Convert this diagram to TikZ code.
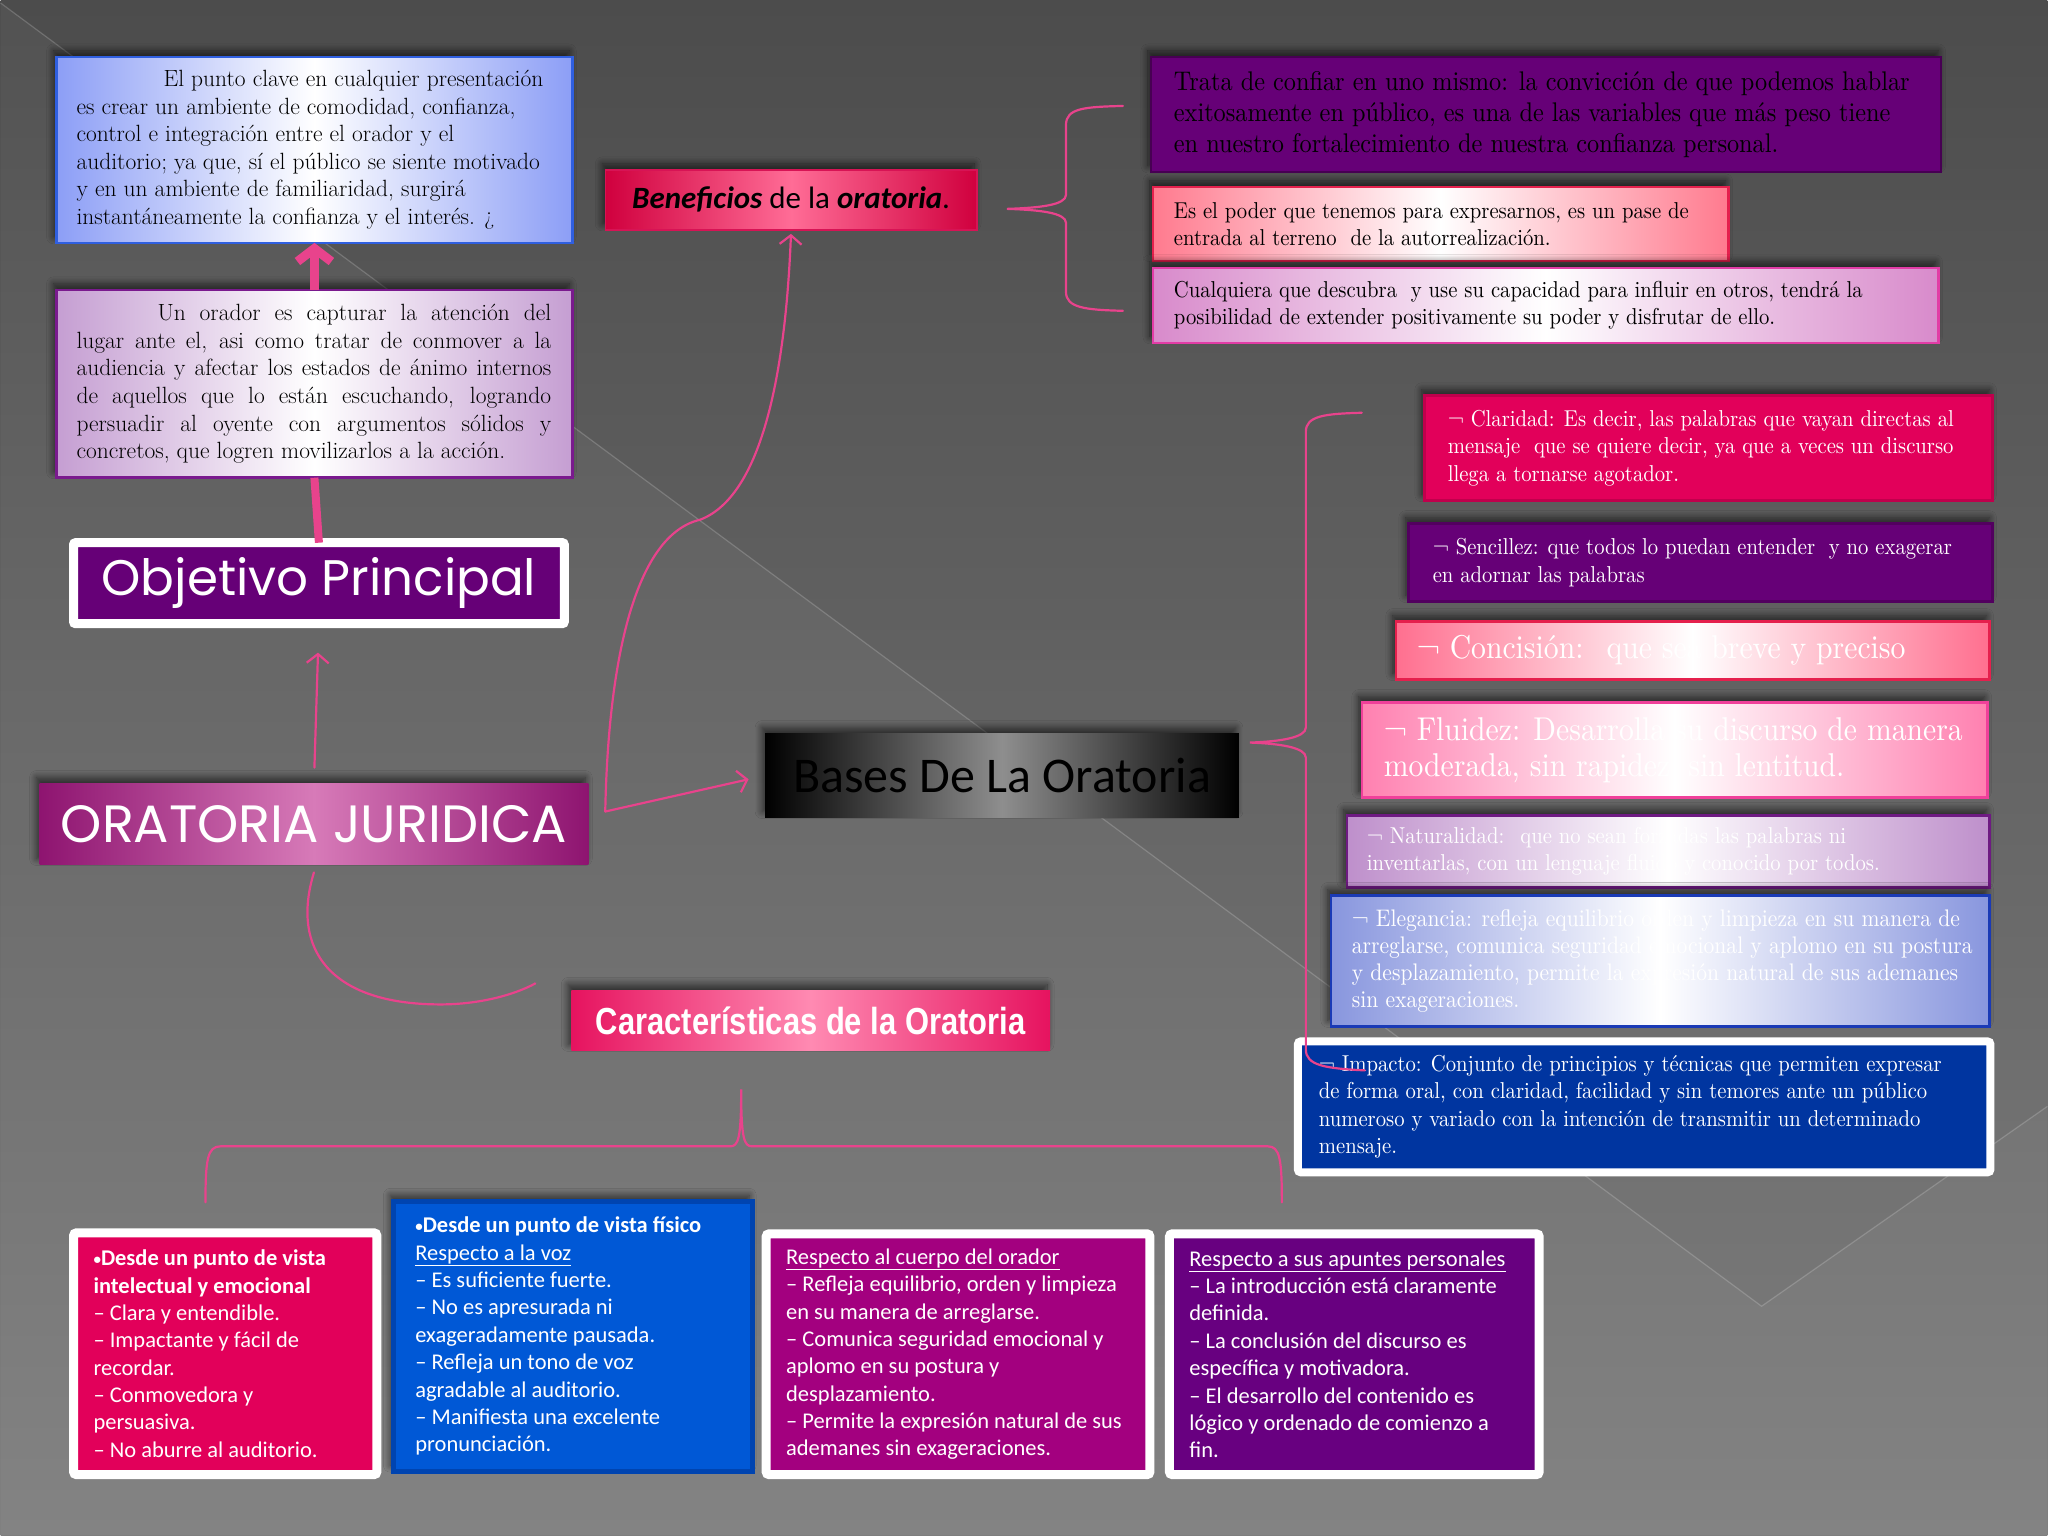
\documentclass[tikz,border=0pt]{standalone}
\usepackage{fontspec}
\usetikzlibrary{shadows,shadows.blur,arrows.meta}
\newfontfamily\carl{Carlito}
\newfontfamily\gothic{Poppins}
\newfontfamily\lsans[FakeStretch=0.82]{Liberation Sans}
\newfontfamily\cserif[FakeStretch=0.9]{lmroman10-regular.otf}
\definecolor{bgtop}{HTML}{4C4C4C}
\definecolor{bgbot}{HTML}{7E7E7E}
\definecolor{pinkc}{HTML}{E8438C}
\definecolor{purp}{HTML}{660077}
\definecolor{crim}{HTML}{E2005A}
\definecolor{tlblue}{HTML}{8C9EF6}
\definecolor{tlblueb}{HTML}{2F5FE0}
\definecolor{tllav}{HTML}{C59ED2}
\definecolor{tllavb}{HTML}{7A1A8E}
\definecolor{oradk}{HTML}{8E1470}
\definecolor{orali}{HTML}{D77AB8}
\definecolor{benred}{HTML}{D0003E}
\definecolor{benli}{HTML}{FF6C96}
\definecolor{carred}{HTML}{E6135F}
\definecolor{carli}{HTML}{FF8AB2}
\definecolor{basegray}{HTML}{8E8E8E}
\definecolor{rpink}{HTML}{FF7A8E}
\definecolor{rpinkb}{HTML}{E5204D}
\definecolor{rlav}{HTML}{D88ACB}
\definecolor{rlavb}{HTML}{E23CA6}
\definecolor{conc}{HTML}{FF6F8F}
\definecolor{flui}{HTML}{FF80B0}
\definecolor{fluib}{HTML}{F0409A}
\definecolor{natu}{HTML}{BE8FCB}
\definecolor{natub}{HTML}{6E1A82}
\definecolor{eleg}{HTML}{8896DE}
\definecolor{elegb}{HTML}{1A3AB6}
\definecolor{impa}{HTML}{0035A0}
\definecolor{bblue}{HTML}{0058D6}
\definecolor{bblueb}{HTML}{0044B0}
\definecolor{bmag}{HTML}{A3007F}
\definecolor{bpur}{HTML}{680080}
\newcommand{\smallbul}{{\fontsize{15}{15}\selectfont\raisebox{1.5pt}{•}}}
\begin{document}
\begin{tikzpicture}[x=1pt,y=-1pt,
  boxs/.style={anchor=north west, inner sep=0pt, outer sep=0pt, rectangle},
  txt/.style={anchor=west, align=left, inner sep=0pt, outer sep=0pt},
  shad/.style={blur shadow={shadow xshift=-3pt, shadow yshift=6pt, shadow blur radius=7pt, shadow blur steps=10, shadow opacity=60}},
  pk/.style={draw=pinkc, line width=2.2pt, line cap=round},
  pkarrow/.style={pk, -{Straight Barb[length=9pt,width=22pt]}},
  frame/.style={draw=white, line width=9pt, rounded corners=3pt},
  condA/.style={font=\cserif\fontsize{23}{27.4}\selectfont},
  bott/.style={txt, font=\carl\fontsize{22.5}{27.4}\selectfont, text=white}
]
% background
\fill[top color=bgtop, bottom color=bgbot] (0,0) rectangle (2048,1536);
\fill[white, opacity=0.04] (0,3) -- (1762,1307) -- (2048,1107) -- (2048,1536) -- (0,1536) -- cycle;
\draw[white, opacity=0.18, line width=1.2pt] (0,3) -- (1762,1307) -- (2048,1107);
\useasboundingbox (0,0) rectangle (2048,1536);

% ---------- top-left boxes
\node[boxs, minimum width=516pt, minimum height=186pt, draw=tlblueb, line width=2.5pt,
  left color=tlblue, right color=tlblue, middle color=white, shad] (tl1) at (56,57) {};
\node[txt, font=\fontsize{23.5}{27.5}\selectfont] (tl1t) at ([xshift=20pt]tl1.west)
 {\hspace*{87pt}El punto clave en cualquier presentación\\
  es crear un ambiente de comodidad, confianza,\\
  control e integración entre el orador y el\\
  auditorio; ya que, sí el público se siente motivado\\
  y en un ambiente de familiaridad, surgirá\\
  instantáneamente la confianza y el interés. ¿};

\node[boxs, minimum width=516pt, minimum height=188pt, draw=tllavb, line width=2.5pt,
  left color=tllav, right color=tllav, middle color=white, shad] (tl2) at (56,290) {};
\node[txt, font=\fontsize{23.5}{27.7}\selectfont] (tl2t) at ([xshift=20pt]tl2.west)
 {\hspace*{81pt}\makebox[394pt][s]{Un orador es capturar la atención del}\\
  \makebox[475pt][s]{lugar ante el, asi como tratar de conmover a la}\\
  \makebox[475pt][s]{audiencia y afectar los estados de ánimo internos}\\
  \makebox[475pt][s]{de aquellos que lo están escuchando, logrando}\\
  \makebox[475pt][s]{persuadir al oyente con argumentos sólidos y}\\
  concretos, que logren movilizarlos a la acción.};

% ---------- objetivo / oratoria
\node[boxs, minimum width=491pt, minimum height=81pt, fill=purp, frame, rounded corners=2pt,
  text=white, font=\gothic\fontsize{50}{50}\selectfont] (obj) at (73,543) {Objetivo Principal};

\node[boxs, minimum width=549pt, minimum height=81pt, left color=oradk, right color=oradk,
  middle color=orali, text=white, font=\gothic\fontsize{52.5}{52.5}\selectfont, shad] (ora) at (39,784) {ORATORIA JURIDICA};

\node[boxs, minimum width=474pt, minimum height=84pt, left color=black, right color=black,
  middle color=basegray, text=black, font=\carl\fontsize{50}{50}\selectfont, shad] (bases) at (765,734) {Bases De La Oratoria};

\node[boxs, minimum width=372pt, minimum height=60pt, left color=benred, right color=benred,
  middle color=benli, draw=benred!70!pinkc, line width=1.5pt, text=black,
  font=\carl\fontsize{31}{31}\selectfont, shad] (benef) at (605,170)
  {{\bfseries\itshape Beneficios} de la {\bfseries\itshape oratoria}.};

\node[boxs, minimum width=479pt, minimum height=60pt, left color=carred, right color=carred,
  middle color=carli, text=white, font=\lsans\bfseries\fontsize{37.7}{37.7}\selectfont, shad] (car) at (571,991)
  {Características de la Oratoria};

% ---------- top right boxes
\node[boxs, minimum width=791pt, minimum height=115pt, fill=purp, draw=purp!70!black, line width=2pt, shad] (r1) at (1151,57) {};
\node[txt, font=\cserif\fontsize{27}{31}\selectfont, text=black] (r1t) at ([xshift=23pt]r1.west)
 {Trata de confiar en uno mismo: la convicción de que podemos hablar\\
  exitosamente en público, es una de las variables que más peso tiene\\
  en nuestro fortalecimiento de nuestra confianza personal.};

\node[boxs, minimum width=576pt, minimum height=74pt, left color=rpink, right color=rpink,
  middle color=white, draw=rpinkb, line width=2.5pt, shad] (r2) at (1153,187) {};
\node[txt, condA, text=black] (r2t) at ([xshift=21pt]r2.west)
 {Es el poder que tenemos para expresarnos, es un pase de\\
  entrada al terreno \ de la autorrealización.};

\node[boxs, minimum width=786pt, minimum height=75pt, left color=rlav, right color=rlav,
  middle color=white, draw=rlavb, line width=2.5pt, shad] (r3) at (1153,268) {};
\node[txt, condA, text=black] (r3t) at ([xshift=21pt]r3.west)
 {Cualquiera que descubra \ y use su capacidad para influir en otros, tendrá la\\
  posibilidad de extender positivamente su poder y disfrutar de ello.};

% ---------- bases list boxes
\node[boxs, minimum width=568pt, minimum height=105pt, fill=crim, draw=crim!85!black, line width=3pt, shad] (cla) at (1425,396) {};
\node[txt, condA, text=white] (clat) at ([xshift=23pt]cla.west)
 {¬ Claridad: Es decir, las palabras que vayan directas al\\
  mensaje \ que se quiere decir, ya que a veces un discurso\\
  llega a tornarse agotador.};

\node[boxs, minimum width=584pt, minimum height=78pt, fill=purp, draw=purp!80!black, line width=3pt, shad] (sen) at (1409,524) {};
\node[txt, condA, text=white] (sent) at ([xshift=24pt]sen.west)
 {¬ Sencillez: que todos lo puedan entender \ y no exagerar\\
  en adornar las palabras};

\node[boxs, minimum width=594pt, minimum height=58pt, left color=conc, right color=conc,
  middle color=white, draw=rpinkb, line width=2.5pt, shad] (con) at (1396,622) {};
\node[txt, font=\cserif\fontsize{33}{36}\selectfont, text=white] (cont) at ([xshift=21pt]con.west)
 {¬ Concisión: \ que sea breve y preciso};

\node[boxs, minimum width=626pt, minimum height=95pt, left color=flui, right color=flui,
  middle color=white, draw=fluib, line width=2.5pt, shad] (flu) at (1362,703) {};
\node[txt, font=\cserif\fontsize{33}{36.5}\selectfont, text=white] (flut) at ([xshift=22pt]flu.west)
 {¬ Fluidez: Desarrolla su discurso de manera\\
  moderada, sin rapidez, sin lentitud.};

\node[boxs, minimum width=643pt, minimum height=72pt, left color=natu, right color=natu,
  middle color=white, draw=natub, line width=2.5pt, shad] (nat) at (1347,816) {};
\node[txt, condA, text=white] (natt) at ([xshift=20pt]nat.west)
 {¬ Naturalidad: \ que no sean forzadas las palabras ni\\
  inventarlas, con un lenguaje fluido y conocido por todos.};

\node[boxs, minimum width=659pt, minimum height=131pt, left color=eleg, right color=eleg,
  middle color=white, draw=elegb, line width=2.5pt, shad] (ele) at (1331,896) {};
\node[txt, font=\cserif\fontsize{24}{27}\selectfont, text=white] (elet) at ([xshift=21pt]ele.west)
 {¬ Elegancia: refleja equilibrio orden y limpieza en su manera de\\
  arreglarse, comunica seguridad emocional y aplomo en su postura\\
  y desplazamiento, permite la expresión natural de sus ademanes\\
  sin exageraciones.};

\node[boxs, minimum width=693pt, minimum height=131pt, fill=impa, frame, line width=8pt] (imp) at (1298,1042) {};
\node[txt, condA, text=white] (impt) at ([xshift=21pt]imp.west)
 {¬ Impacto: Conjunto de principios y técnicas que permiten expresar\\
  de forma oral, con claridad, facilidad y sin temores ante un público\\
  numeroso y variado con la intención de transmitir un determinado\\
  mensaje.};

% ---------- bottom boxes
\node[boxs, minimum width=303.5pt, minimum height=242pt, fill=crim, frame] (b1) at (73,1233.5) {};
\node[bott] (b1t) at ([xshift=20pt]b1.west)
 {{\bfseries \smallbul Desde un punto de vista}\\
  {\bfseries intelectual y emocional}\\
  – Clara y entendible.\\
  – Impactante y fácil de\\
  recordar.\\
  – Conmovedora y\\
  persuasiva.\\
  – No aburre al auditorio.};

\node[boxs, minimum width=359pt, minimum height=270pt, fill=bblue, draw=bblueb, line width=5pt, shad] (b2) at (393,1202) {};
\node[bott] (b2t) at ([xshift=22pt]b2.west)
 {{\bfseries \smallbul Desde un punto de vista físico}\\
  \underline{Respecto a la voz}\\
  – Es suficiente fuerte.\\
  – No es apresurada ni\\
  exageradamente pausada.\\
  – Refleja un tono de voz\\
  agradable al auditorio.\\
  – Manifiesta una excelente\\
  pronunciación.};

\node[boxs, minimum width=384pt, minimum height=241pt, fill=bmag, frame] (b3) at (766,1234.5) {};
\node[bott] (b3t) at ([xshift=20pt]b3.west)
 {\underline{Respecto al cuerpo del orador}\\
  – Refleja equilibrio, orden y limpieza\\
  en su manera de arreglarse.\\
  – Comunica seguridad emocional y\\
  aplomo en su postura y\\
  desplazamiento.\\
  – Permite la expresión natural de sus\\
  ademanes sin exageraciones.};

\node[boxs, minimum width=370pt, minimum height=241pt, fill=bpur, frame] (b4) at (1169.5,1234.5) {};
\node[bott] (b4t) at ([xshift=20pt]b4.west)
 {\underline{Respecto a sus apuntes personales}\\
  – La introducción está claramente\\
  definida.\\
  – La conclusión del discurso es\\
  específica y motivadora.\\
  – El desarrollo del contenido es\\
  lógico y ordenado de comienzo a\\
  fin.};

% ---------- connectors
\draw[pk, line width=9pt, line cap=butt, -{Straight Barb[length=13pt,width=34pt]}] (tl2.north) -- (tl1.south);
\draw[pk, line width=8pt, line cap=butt] (tl2.south) -- (obj.north);
\draw[pkarrow, shorten <=16pt, shorten >=29pt] (ora.north) -- (obj.south);
\coordinate (jn) at (605,812);
\draw[pkarrow, shorten >=17pt] (jn) -- (bases.west);
\draw[pkarrow, shorten >=4pt] (jn) .. controls (608,660) and (635,535) .. (700,520)
   .. controls (760,497) and (785,380) .. (benef.south);
\coordinate (ce) at (535,984);
\draw[pk] ([yshift=-8pt]ora.south) .. controls (290,950) and (330,1005) .. (440,1005)
   .. controls (480,1005) and (515,995) .. (ce);

% brace near beneficios
\draw[pk] (1123,106) .. controls (1085,107) and (1066,108) .. (1066,125) -- (1066,195)
   .. controls (1066,205) and (1040,208) .. (1007,209)
   .. controls (1040,210) and (1066,213) .. (1066,223) -- (1066,292)
   .. controls (1066,308) and (1085,310) .. (1123,311);
% brace near bases
\draw[pk] (1362,413) .. controls (1325,414) and (1306,416) .. (1306,432) -- (1306,728)
   .. controls (1306,738) and (1280,742) .. (1250,743)
   .. controls (1280,744) and (1306,748) .. (1306,758) -- (1306,1050)
   .. controls (1306,1066) and (1325,1069) .. (1365,1071);
% bottom bracket
\draw[pk] (205,1203) .. controls (205,1160) and (207,1147) .. (220,1147) -- (730,1147)
   .. controls (738,1147) and (741,1140) .. (741,1090)
   .. controls (741,1140) and (744,1147) .. (752,1147) -- (1268,1147)
   .. controls (1280,1147) and (1282,1160) .. (1282,1203);
\end{tikzpicture}
\end{document}
